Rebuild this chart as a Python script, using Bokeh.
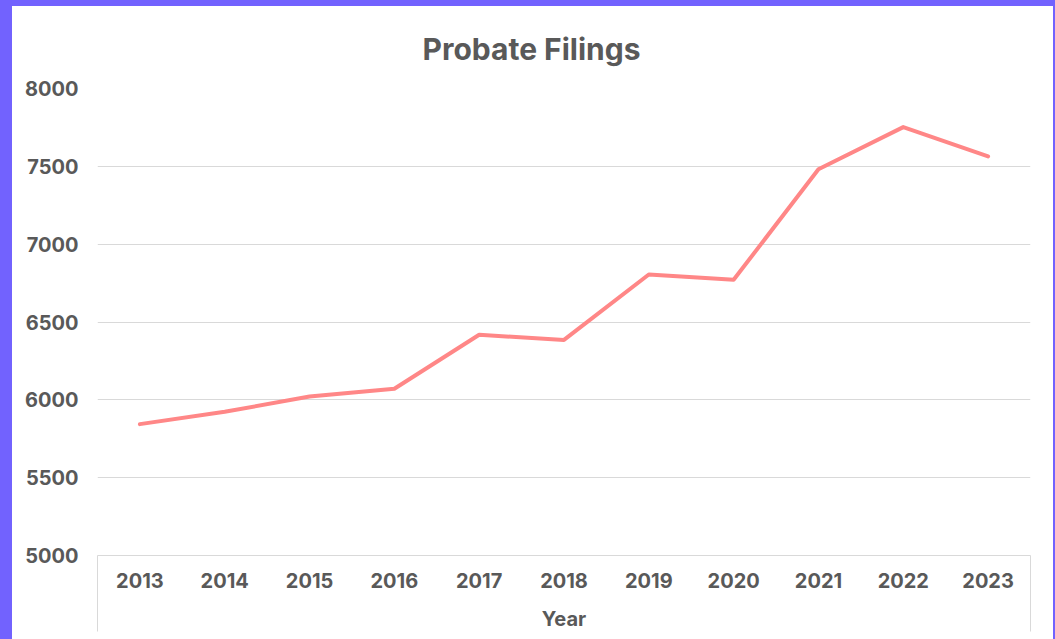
from bokeh.plotting import figure
from bokeh.models import Range1d, FixedTicker
from bokeh.embed import file_html
from bokeh.resources import INLINE

# ---- data ----
years = ["2013", "2014", "2015", "2016", "2017", "2018", "2019", "2020", "2021", "2022", "2023"]
filings = [5844, 5923, 6021, 6071, 6418, 6385, 6805, 6771, 7481, 7752, 7564]
y_ticks = [5000, 5500, 6000, 6500, 7000, 7500, 8000]
chart_title = "Probate Filings"
x_title = "Year"

TEXT = "#595959"
GRID = "#d9d9d9"
FONT = "Inter"

xs = list(range(len(years)))

p = figure(width=1041, height=633, output_backend="svg", toolbar_location=None,
           x_range=Range1d(-0.5, len(years) - 0.5),
           y_range=Range1d(y_ticks[0], y_ticks[-1]),
           min_border_left=85, min_border_right=23,
           min_border_top=82, min_border_bottom=84)
p.styles = {"background-color": "white"}

p.background_fill_color = "white"
p.border_fill_color = "white"
p.outline_line_color = None

# title
p.title.text = chart_title
p.title.text_font = FONT
p.title.text_font_size = "30px"
p.title.text_font_style = "bold"
p.title.text_color = TEXT
p.title.align = "left"
p.title.offset = 325
p.title.standoff = 44

# line
p.line(xs, filings, line_color="#FF8787", line_width=4, line_cap="round", line_join="round")

# grid
p.xgrid.visible = False
p.ygrid.ticker = FixedTicker(ticks=y_ticks)
p.ygrid.grid_line_color = GRID
p.ygrid.grid_line_width = 1

# y axis
p.yaxis.ticker = FixedTicker(ticks=y_ticks)
p.yaxis.axis_line_color = None
p.yaxis.major_tick_line_color = None
p.yaxis.minor_tick_line_color = None
p.yaxis.major_tick_out = 0
p.yaxis.major_label_standoff = 19
p.yaxis.major_label_text_font = FONT
p.yaxis.major_label_text_font_size = "20px"
p.yaxis.major_label_text_font_style = "bold"
p.yaxis.major_label_text_color = TEXT

# x axis
p.xaxis.ticker = FixedTicker(ticks=xs, minor_ticks=[-0.5, len(years) - 0.5])
p.xaxis.major_label_overrides = {i: y for i, y in enumerate(years)}
p.xaxis.axis_line_color = GRID
p.xaxis.axis_line_width = 1
p.xaxis.major_tick_line_color = None
p.xaxis.major_tick_out = 0
p.xaxis.major_tick_in = 0
p.xaxis.minor_tick_in = 0
p.xaxis.minor_tick_out = 76
p.xaxis.minor_tick_line_color = GRID
p.xaxis.major_label_standoff = -59
p.xaxis.major_label_text_font = FONT
p.xaxis.major_label_text_font_size = "20px"
p.xaxis.major_label_text_font_style = "bold"
p.xaxis.major_label_text_color = TEXT
p.xaxis.axis_label = x_title
p.xaxis.axis_label_standoff = 16
p.xaxis.axis_label_text_font = FONT
p.xaxis.axis_label_text_font_size = "20px"
p.xaxis.axis_label_text_font_style = "bold"
p.xaxis.axis_label_text_color = TEXT

html = file_html(p, INLINE)
html = html.replace("</head>",
                    "<style>html,body{background:#7262fe;overflow:hidden;}"
                    "body{margin:6px 2px 0 12px;}</style></head>", 1)
open("out.html", "w").write(html)
